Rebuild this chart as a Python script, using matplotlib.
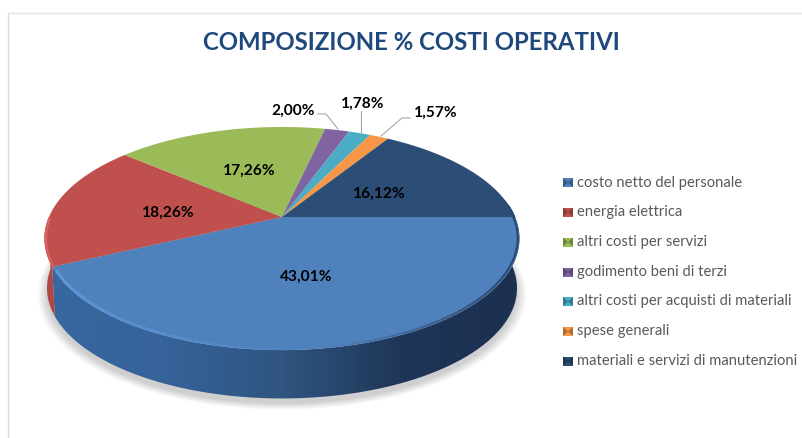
import numpy as np
import matplotlib
matplotlib.use('Agg')
import matplotlib.pyplot as plt
from matplotlib.colors import to_rgb, LinearSegmentedColormap
from matplotlib.patches import Polygon

categories = ['costo netto del personale', 'energia elettrica', 'altri costi per servizi',
              'godimento beni di terzi', 'altri costi per acquisti di materiali',
              'spese generali', 'materiali e servizi di manutenzioni']
values = [43.01, 18.26, 17.26, 2.00, 1.78, 1.57, 16.12]
labels = ['43,01%', '18,26%', '17,26%', '2,00%', '1,78%', '1,57%', '16,12%']
colors = ['#4f81bd', '#c0504d', '#9bbb59', '#8064a2', '#4bacc6', '#f79646', '#2c4d75']

plt.rcParams['font.family'] = ['Lato', 'DejaVu Sans']

CX, CY = 282, 217
R, H, K = 233, 107.4, 0.193
DEPTH = 50


def project(theta, scale=1.0, dy=0.0):
    # theta in radians, measured on the pie plane; perspective squeezes the back
    u, v = scale * np.cos(theta), scale * np.sin(theta)
    d = 1 + K * v
    return CX + R * u / d, CY - H * v / d + dy


def shade(color, f):
    return tuple(min(1, c * f) for c in to_rgb(color))


fig = plt.figure(figsize=(8.03, 4.38), dpi=100)
ax = fig.add_axes([0, 0, 1, 1])
ax.set_xlim(0, 803)
ax.set_ylim(438, 0)
ax.axis('off')

# frame
ax.plot([8.5, 8.5], [13, 438], color='#dcdcdc', lw=1.0)
ax.plot([8.5, 803], [13, 13], color='#e2e2e2', lw=1.0)

# soft shadow under the pie
t = np.linspace(0, 2 * np.pi, 200)
for i in range(12):
    x, y = project(t, 0.99 + 0.0035 * i, DEPTH + 5)
    ax.fill(x, y, color='k', alpha=0.015, lw=0, zorder=1)

fracs = np.cumsum([0] + values) / sum(values)
starts = -2 * np.pi * fracs[:-1]
ends = -2 * np.pi * fracs[1:]

# front of the pie: gradient image clipped to the band between top and bottom rim
th = np.linspace(0.2, ends[0], 200)
xt, yt = project(th)
xb, yb = project(th, 0.99, DEPTH)
band = Polygon(np.c_[np.r_[xt, xb[::-1]], np.r_[yt, yb[::-1]]], closed=True,
               transform=ax.transData, fc='none', ec='none')
ax.add_patch(band)
side_cmap = LinearSegmentedColormap.from_list('side', ['#37689f', '#35639a', '#2f5580', '#1f3658', '#1c3050'])
grad = ax.imshow(np.linspace(0, 1, 256)[None, :], cmap=side_cmap, extent=(44, 520, 420, 200),
                 aspect='auto', zorder=2)
grad.set_clip_path(band)
ax.set_xlim(0, 803)
ax.set_ylim(438, 0)

# the small piece of red side at the far left
th = np.linspace(ends[0], ends[0] - 0.42, 40)
xt, yt = project(th)
xb, yb = project(th, 0.99, DEPTH)
ax.fill(np.r_[xt, xb[::-1]], np.r_[yt, yb[::-1]], color='#b04744', lw=0, zorder=2)

# top face
for a0, a1, col in zip(starts, ends, colors):
    th = np.linspace(a0, a1, 120)
    x, y = project(th)
    ax.fill(np.r_[CX, x], np.r_[CY, y], color=col, lw=0, zorder=3)

# bevel on the rim: bright on the left of the front edge, dark on the right
th = np.linspace(starts[0], ends[0], 240)
x, y = project(th, 0.993)
for a, b in zip(range(0, 239, 4), range(4, 240, 4)):
    pos = (x[a] - 50) / 470
    al = max(0.0, 1 - pos * 1.9)
    ax.plot(x[a:b + 1], y[a:b + 1], color='#5c98dc', lw=2.0, alpha=al, solid_capstyle='butt', zorder=5)
    ax.plot(x[a:b + 1], y[a:b + 1], color='#27466c', lw=1.6, alpha=max(0.0, min(1, (pos - 0.6) * 2.4)),
            solid_capstyle='butt', zorder=5)
th = np.linspace(0.1, starts[0], 12)
x, y = project(th, 0.997)
ax.plot(x, y, color='#27466c', lw=1.4, zorder=5)
th = np.linspace(ends[0], ends[0] - 0.42, 40)
x, y = project(th, 0.995)
ax.plot(x, y, color='#d9605c', lw=2, zorder=5)

# value labels
label_pos = [(306, 277), (168, 213), (249, 171), (293, 111), (363, 104), (435.5, 113), (379, 194)]
for (lx, ly), txt in zip(label_pos, labels):
    ax.text(lx, ly, txt, ha='center', va='center', fontsize=11.2, fontweight='bold', color='k', zorder=6)

# leader lines
ax.plot([318, 326, 338], [114, 114, 129], color='#a6a6a6', lw=0.8, zorder=6)
ax.plot([361, 361], [111, 132], color='#a6a6a6', lw=0.8, zorder=6)
ax.plot([381, 402, 410], [136, 118, 118], color='#a6a6a6', lw=0.8, zorder=6)

# title
ax.text(411, 42, 'COMPOSIZIONE % COSTI OPERATIVI', ha='center', va='center',
        fontsize=17.3, fontweight='bold', color='#1f497d', zorder=6)

# legend
legend_y = [182.5, 212, 242, 272, 301.5, 331.5, 361]
for ly, col, name in zip(legend_y, colors, categories):
    ax.fill([563, 573, 573, 563], [ly - 4.5, ly - 4.5, ly + 4.5, ly + 4.5], color=col, lw=0, zorder=6)
    ax.fill([563, 568, 563], [ly - 4.5, ly, ly + 4.5], color=shade(col, 0.72), lw=0, zorder=7)
    ax.fill([573, 568, 573], [ly - 4.5, ly, ly + 4.5], color=shade(col, 0.72), lw=0, zorder=7)
    ax.text(577, ly, name, ha='left', va='center', fontsize=10.6, color='#595959', zorder=6)

fig.savefig('out.png', dpi=100)
